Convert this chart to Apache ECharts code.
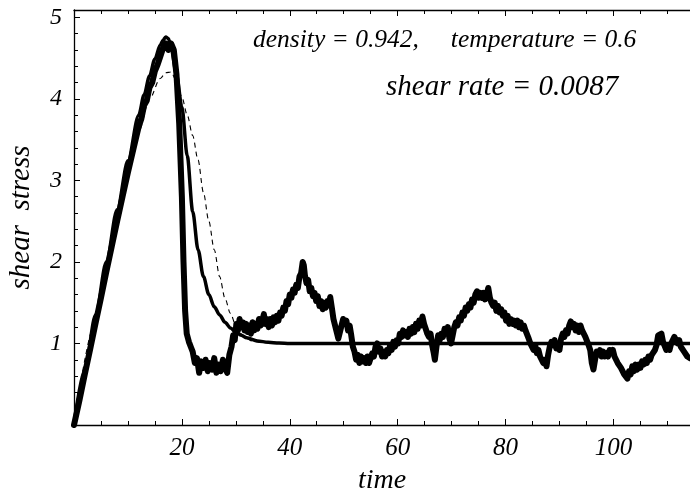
<!DOCTYPE html>
<html>
<head>
<meta charset="UTF-8">
<title>shear stress vs time</title>
<style>
  html, body { margin: 0; padding: 0; background: #fff; }
  #chart { width: 690px; height: 495px; }
</style>
<script src="https://cdn.jsdelivr.net/npm/echarts@6.0.0/dist/echarts.min.js"></script>
</head>
<body>
<div id="chart"></div>
<script>
  // axis ranges and tick labels
  const xRange = [0, 114.2];
  const yRange = [0, 5.09];
  const xTickLabels = [20, 40, 60, 80, 100];
  const yTickLabels = [1, 2, 3, 4, 5];

  // simulation (noisy thick line): [time, shear stress]
  const simData = [
    [0, 0], [1, 0.30], [2, 0.62], [3, 0.93], [4, 1.25], [5, 1.56], [6, 1.88], [7, 2.19],
    [8, 2.50], [9, 2.80], [10, 3.10], [11, 3.38], [12, 3.66], [12.5, 3.76], [13, 3.92],
    [13.5, 3.98], [14, 4.14], [14.5, 4.20], [15, 4.34], [15.5, 4.42], [16, 4.52],
    [16.5, 4.62], [17, 4.68], [17.5, 4.60], [18, 4.68], [18.5, 4.60], [19, 4.30],
    [19.5, 3.70], [20, 2.80], [20.3, 2.00], [20.6, 1.40], [20.9, 1.12],
    [21.3, 1.02], [21.7, 0.95], [22.0, 0.90], [22.4, 0.76], [22.8, 0.82], [23.2, 0.64],
    [23.6, 0.78], [24.0, 0.70], [24.4, 0.80], [24.8, 0.66], [25.2, 0.76], [25.6, 0.68],
    [26.0, 0.82], [26.4, 0.64], [26.8, 0.74], [27.2, 0.66], [27.6, 0.80], [28.0, 0.72],
    [28.4, 0.64], [28.8, 0.86],
    [29.2, 0.96], [29.5, 1.10], [29.8, 1.04], [30.1, 1.24], [30.4, 1.16], [30.7, 1.30],
    [31.0, 1.20], [31.3, 1.26], [31.6, 1.16], [31.9, 1.24], [32.2, 1.14], [32.5, 1.22],
    [32.8, 1.12], [33.1, 1.26], [33.4, 1.16], [33.7, 1.24], [34.0, 1.18], [34.3, 1.30],
    [34.6, 1.22], [34.9, 1.28], [35.2, 1.36], [35.5, 1.24], [35.8, 1.30], [36.1, 1.20],
    [36.4, 1.30], [36.7, 1.22], [37.0, 1.32], [37.3, 1.26], [37.6, 1.34], [37.9, 1.28],
    [38.2, 1.38], [38.5, 1.34], [38.8, 1.44], [39.1, 1.40], [39.4, 1.52], [39.7, 1.48],
    [40.0, 1.60], [40.3, 1.56], [40.6, 1.66], [40.9, 1.62], [41.2, 1.72], [41.5, 1.68],
    [41.8, 1.82], [42.1, 1.86], [42.4, 2.00], [42.6, 1.96], [42.8, 1.84], [43.1, 1.74],
    [43.4, 1.78], [43.7, 1.64], [44.0, 1.68], [44.3, 1.58], [44.6, 1.62], [44.9, 1.52],
    [45.2, 1.58], [45.5, 1.46], [45.8, 1.52], [46.1, 1.42], [46.4, 1.50], [46.7, 1.44],
    [47.0, 1.52], [47.3, 1.48], [47.5, 1.57], [47.8, 1.44], [48.1, 1.30], [48.4, 1.22],
    [48.7, 1.14], [49.0, 1.06], [49.3, 1.14], [49.6, 1.22], [49.9, 1.30], [50.2, 1.24],
    [50.5, 1.28], [50.8, 1.16], [51.1, 1.22], [51.4, 1.10], [51.7, 0.96], [52.0, 0.90],
    [52.3, 0.80], [52.6, 0.86], [52.9, 0.76], [53.2, 0.84], [53.5, 0.78], [53.8, 0.82],
    [54.1, 0.76], [54.4, 0.84], [54.7, 0.76], [55.0, 0.82], [55.3, 0.88], [55.6, 0.84],
    [55.9, 0.96], [56.2, 1.00], [56.5, 0.90], [56.8, 0.94], [57.1, 0.84], [57.4, 0.90],
    [57.7, 0.84], [58.0, 0.92], [58.3, 0.88], [58.6, 0.98], [58.9, 0.92], [59.2, 1.02],
    [59.5, 0.96], [59.8, 1.04], [60.1, 1.00], [60.4, 1.12], [60.7, 1.08], [61.0, 1.16],
    [61.3, 1.10], [61.6, 1.14], [61.9, 1.08], [62.2, 1.18], [62.5, 1.12], [62.8, 1.20],
    [63.1, 1.14], [63.4, 1.24], [63.7, 1.18], [64.0, 1.28], [64.3, 1.22], [64.6, 1.33],
    [64.9, 1.24], [65.2, 1.18], [65.5, 1.12], [65.8, 1.08], [66.1, 1.12], [66.4, 0.98],
    [66.7, 0.88], [66.9, 0.80], [67.2, 0.96], [67.5, 1.10], [67.8, 1.04], [68.1, 1.12],
    [68.4, 1.08], [68.7, 1.18], [69.0, 1.12], [69.3, 1.20], [69.6, 1.06], [69.9, 1.00],
    [70.2, 1.10], [70.5, 1.20], [70.8, 1.26], [71.1, 1.22], [71.4, 1.32], [71.7, 1.28],
    [72.0, 1.38], [72.3, 1.34], [72.6, 1.44], [72.9, 1.40], [73.2, 1.48], [73.5, 1.44],
    [73.8, 1.54], [74.1, 1.50], [74.4, 1.60], [74.7, 1.64], [75.0, 1.56], [75.3, 1.62],
    [75.6, 1.56], [75.9, 1.62], [76.2, 1.54], [76.5, 1.60], [76.8, 1.68], [77.1, 1.56],
    [77.4, 1.50], [77.7, 1.46], [78.0, 1.50], [78.3, 1.40], [78.6, 1.46], [78.9, 1.38],
    [79.2, 1.42], [79.5, 1.34], [79.8, 1.38], [80.1, 1.28], [80.4, 1.34], [80.7, 1.24],
    [81.0, 1.30], [81.3, 1.24], [81.6, 1.28], [81.9, 1.22], [82.2, 1.28], [82.5, 1.20],
    [82.8, 1.26], [83.1, 1.18], [83.4, 1.22], [83.7, 1.16], [84.0, 1.18], [84.3, 1.06],
    [84.6, 1.00], [84.9, 0.96], [85.2, 0.92], [85.5, 0.98], [85.8, 0.88], [86.1, 0.92],
    [86.4, 0.84], [86.7, 0.86], [87.0, 0.76], [87.3, 0.80], [87.6, 0.72], [87.9, 0.86],
    [88.2, 0.96], [88.5, 1.02], [88.8, 0.98], [89.1, 1.04], [89.4, 0.94], [89.7, 0.98],
    [90.0, 0.92], [90.3, 1.06], [90.6, 1.12], [90.9, 1.08], [91.2, 1.16], [91.5, 1.12],
    [91.8, 1.22], [92.1, 1.27], [92.4, 1.20], [92.7, 1.24], [93.0, 1.16], [93.3, 1.22],
    [93.6, 1.14], [93.9, 1.22], [94.2, 1.16], [94.5, 1.12], [94.8, 1.08], [95.1, 1.06],
    [95.4, 0.98], [95.7, 0.92], [96.0, 0.76], [96.3, 0.68], [96.6, 0.80], [96.9, 0.90],
    [97.2, 0.86], [97.5, 0.92], [97.8, 0.84], [98.1, 0.90], [98.4, 0.84], [98.7, 0.88],
    [99.0, 0.84], [99.3, 0.92], [99.6, 0.88], [99.9, 0.92], [100.2, 0.84], [100.5, 0.80],
    [100.8, 0.76], [101.1, 0.78], [101.4, 0.70], [101.7, 0.68], [102.0, 0.62], [102.3, 0.64],
    [102.6, 0.57], [102.9, 0.66], [103.2, 0.62], [103.5, 0.72], [103.8, 0.66], [104.1, 0.74],
    [104.4, 0.68], [104.7, 0.74], [105.0, 0.70], [105.3, 0.78], [105.6, 0.74], [105.9, 0.80],
    [106.2, 0.76], [106.5, 0.84], [106.8, 0.80], [107.1, 0.86], [107.4, 0.84], [107.7, 0.92],
    [108.0, 0.98], [108.3, 1.10], [108.6, 1.08], [108.9, 1.12], [109.2, 1.02], [109.5, 1.00],
    [109.8, 0.92], [110.1, 0.96], [110.4, 0.92], [110.7, 1.00], [111.0, 0.98], [111.3, 1.08],
    [111.6, 1.04], [111.9, 1.00], [112.2, 1.04], [112.5, 0.96], [112.8, 0.98], [113.1, 0.90],
    [113.4, 0.92], [113.7, 0.84], [114.2, 0.82]
  ];

  // model curve (smooth thick line)
  const modelData = [
    [0, 0], [2, 0.68], [4, 1.35], [6, 2.00], [8, 2.64], [10, 3.24], [12, 3.80], [13, 4.05],
    [14, 4.28], [15, 4.49], [16, 4.66], [16.5, 4.72], [17, 4.76], [17.5, 4.74], [18, 4.62],
    [19, 4.30], [20, 3.90], [21, 3.30], [22, 2.62], [23, 2.15], [24, 1.82], [25, 1.60],
    [26, 1.45], [27, 1.35], [28, 1.26], [29, 1.19], [30, 1.14], [31, 1.10], [32, 1.07],
    [34, 1.03], [36, 1.015], [38, 1.005], [40, 1.0], [114.2, 1.0]
  ];

  // second model (thin dashed line)
  const dashData = [
    [0, 0], [4, 1.27], [8, 2.50], [10, 3.08], [12, 3.60], [14, 4.00], [16, 4.25], [17, 4.32],
    [18, 4.33], [19, 4.22], [20, 4.02], [21, 3.80], [22, 3.55], [23, 3.25], [24, 2.85],
    [25, 2.50], [26, 2.15], [27, 1.82], [28, 1.55], [29, 1.37], [30, 1.22], [31, 1.12],
    [32, 1.06], [33, 1.03], [35, 1.01], [38, 1.0], [114.2, 1.0]
  ];

  const serif = 'Liberation Serif';
  const chart = echarts.init(document.getElementById('chart'));

  const tickStyle = { lineStyle: { color: '#000', width: 1 } };

  chart.setOption({
    animation: false,
    backgroundColor: '#fff',
    grid: { left: 74, right: 0, top: 10, bottom: 70, outerBoundsMode: 'none' },
    xAxis: [
      {
        type: 'value', min: xRange[0], max: xRange[1], interval: 20,
        name: 'time', nameLocation: 'middle', nameGap: 42,
        nameTextStyle: { fontFamily: serif, fontStyle: 'italic', fontSize: 28, color: '#000' },
        axisLine: { lineStyle: { color: '#000', width: 1.3 } },
        axisTick: { inside: true, length: 6, ...tickStyle },
        minorTick: { show: true, splitNumber: 4, length: 4, ...tickStyle },
        splitLine: { show: false },
        axisLabel: {
          fontFamily: serif, fontStyle: 'italic', fontSize: 25, color: '#000', margin: 11,
          showMaxLabel: false,
          formatter: v => xTickLabels.includes(v) ? String(v) : ''
        }
      },
      {
        type: 'value', position: 'top', min: xRange[0], max: xRange[1], interval: 20,
        axisLine: { lineStyle: { color: '#000', width: 1.3 } },
        axisTick: { inside: true, length: 6, ...tickStyle },
        minorTick: { show: true, splitNumber: 4, length: 4, ...tickStyle },
        splitLine: { show: false },
        axisLabel: { show: false }
      }
    ],
    yAxis: {
      type: 'value', min: yRange[0], max: yRange[1], interval: 1,
      name: 'shear  stress', nameLocation: 'middle', nameGap: 38,
      nameTextStyle: { fontFamily: serif, fontStyle: 'italic', fontSize: 29, color: '#000' },
      axisLine: { lineStyle: { color: '#000', width: 1.3 } },
      axisTick: { inside: true, length: 6, ...tickStyle },
      minorTick: { show: true, splitNumber: 5, length: 4, ...tickStyle },
      splitLine: { show: false },
      axisLabel: {
        fontFamily: serif, fontStyle: 'italic', fontSize: 24, color: '#000', margin: 12,
        showMaxLabel: true,
        formatter: v => yTickLabels.includes(v) ? String(v) : ''
      }
    },
    graphic: [
      {
        type: 'text', left: 253, top: 27,
        style: {
          text: 'density = 0.942,     temperature = 0.6',
          font: 'italic 25.5px "Liberation Serif"', fill: '#000'
        }
      },
      {
        type: 'text', left: 386, top: 73,
        style: {
          text: 'shear rate = 0.0087',
          font: 'italic 29px "Liberation Serif"', fill: '#000'
        }
      }
    ],
    series: [
      {
        type: 'line', data: dashData, showSymbol: false, smooth: 0.3, smoothMonotone: 'x',
        lineStyle: { color: '#000', width: 1.1, type: [5, 4] }, z: 1
      },
      {
        type: 'line', data: modelData, showSymbol: false, smooth: 0.3, smoothMonotone: 'x',
        lineStyle: { color: '#000', width: 3.5 }, z: 2
      },
      {
        type: 'line', data: simData, showSymbol: false,
        lineStyle: { color: '#000', width: 6, join: 'round', cap: 'round' }, z: 3
      }
    ]
  });
</script>
</body>
</html>
